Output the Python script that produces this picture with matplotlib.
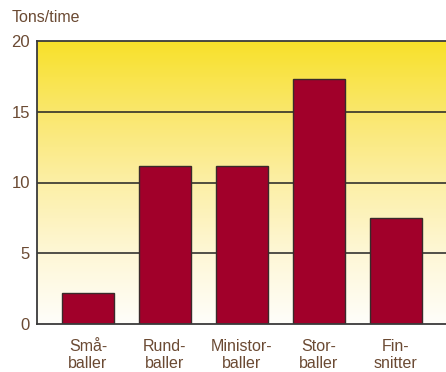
import matplotlib
matplotlib.use("Agg")
import matplotlib.pyplot as plt
import numpy as np
from matplotlib.colors import LinearSegmentedColormap

categories = ["Små-\nballer", "Rund-\nballer", "Ministor-\nballer", "Stor-\nballer", "Fin-\nsnitter"]
values = [2.2, 11.2, 11.2, 17.3, 7.5]
yticks = [0, 5, 10, 15, 20]
ylabel = "Tons/time"

plt.rcParams['font.family'] = ['Liberation Sans', 'DejaVu Sans']
txt = "#6b4a33"

fig = plt.figure(figsize=(4.46, 3.72), dpi=100)
ax = fig.add_axes([37/446, 48/372, 409/446, 283/372])

cmap = LinearSegmentedColormap.from_list("g", [
    (0.0, "#f8e12a"), (0.25, "#fae76c"), (0.5, "#fcefa6"),
    (0.75, "#fef7d6"), (1.0, "#fffefa")])
grad = np.linspace(0, 1, 256).reshape(-1, 1)
ax.imshow(grad, cmap=cmap, aspect="auto", extent=[0, 1, 0, 1],
          transform=ax.transAxes, zorder=0)

x = np.arange(len(categories))
for yv in yticks[1:-1]:
    ax.axhline(yv, color="#222222", lw=1.1, zorder=1)
ax.bar(x, values, width=0.675, color="#a1002a", edgecolor="#3a2a2a", lw=1.0, zorder=2)

ax.set_xlim(-0.662, 4.65)
ax.set_ylim(0, 20)
ax.set_yticks(yticks)
ax.set_xticks(x)
ax.set_xticklabels(categories, fontsize=11.5, color=txt, linespacing=1.15)
ax.tick_params(axis='y', labelsize=12, colors=txt, length=0, pad=5)
ax.tick_params(axis='x', length=0, pad=11, colors=txt)
for s in ["left", "top", "bottom"]:
    ax.spines[s].set_color("#3a3a3a")
    ax.spines[s].set_linewidth(1.3)
ax.spines["right"].set_visible(False)

fig.text(12/446, 1 - 18/372, ylabel, fontsize=11.5, color=txt, va="center", ha="left")

fig.savefig("out.png", dpi=100)
